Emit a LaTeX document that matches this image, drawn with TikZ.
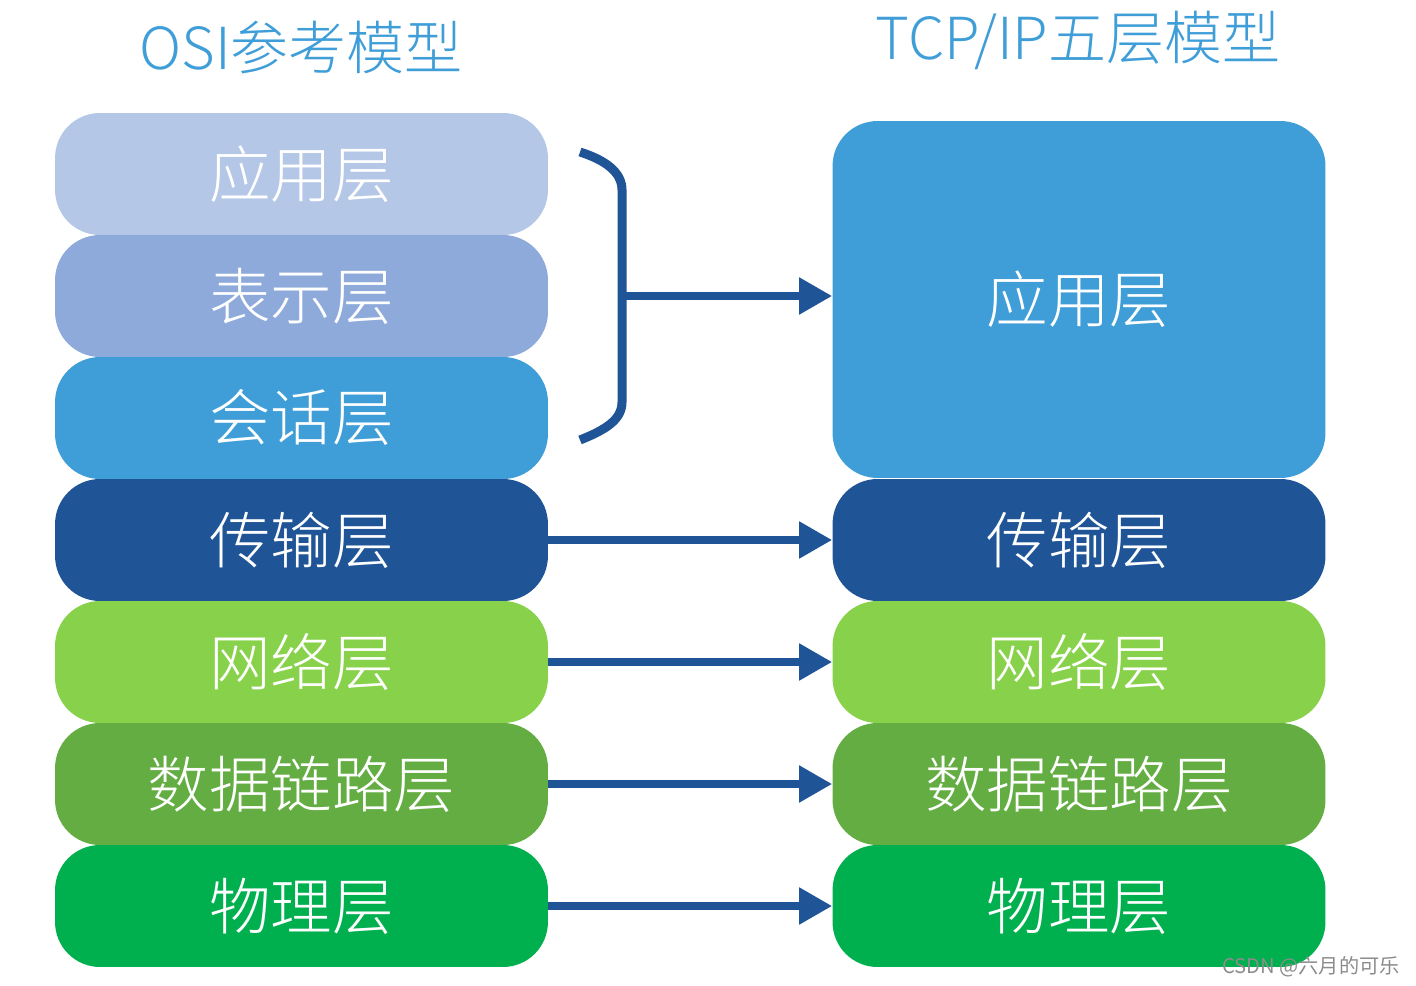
\documentclass[tikz,border=0pt]{standalone}
\usepackage{fontspec}
\usetikzlibrary{arrows.meta}
\setmainfont{Noto Sans CJK SC}
\newfontfamily\cjk{Noto Sans CJK SC Light}

\definecolor{appblue}{HTML}{B4C7E7}
\definecolor{preblue}{HTML}{8EAADB}
\definecolor{sesblue}{HTML}{3F9ED8}
\definecolor{darkblue}{HTML}{1F5597}
\definecolor{netgreen}{HTML}{88D14B}
\definecolor{linkgreen}{HTML}{63AD42}
\definecolor{phygreen}{HTML}{00B04F}
\definecolor{titleblue}{HTML}{3F9ED8}

\tikzset{
  layer/.style={rounded corners=0.9cm, minimum width=9.86cm, minimum height=2.44cm,
    text=white, font=\cjk\fontsize{35}{40}\selectfont, inner sep=0pt},
  title/.style={text=titleblue, font=\cjk\fontsize{33}{40}\selectfont},
  link/.style={draw=darkblue, line width=0.16cm, -{Triangle[length=0.66cm, width=0.7cm]}},
  brace/.style={draw=darkblue, line width=0.18cm}
}

\begin{document}
\begin{tikzpicture}[x=0.02cm, y=-0.02cm]
  \useasboundingbox (0,0) rectangle (1416,986);
  \node[title] (osititle) at (301,48) {OSI参考模型};
  \node[title] (tcptitle) at (1078,40) {TCP/IP五层模型};

  \node[layer, fill=appblue] (osiapp) at (301.5,174) {应用层};
  \node[layer, fill=preblue] (osipre) at (301.5,296) {表示层};
  \node[layer, fill=sesblue] (osises) at (301.5,418) {会话层};
  \node[layer, fill=darkblue] (ositrans) at (301.5,540) {传输层};
  \node[layer, fill=netgreen] (osinet) at (301.5,662) {网络层};
  \node[layer, fill=linkgreen] (osilink) at (301.5,784) {数据链路层};
  \node[layer, fill=phygreen] (osiphy) at (301.5,906) {物理层};

  \node[layer, fill=sesblue, minimum height=7.14cm] (tcpapp) at (1079,299.5) {应用层};
  \node[layer, fill=darkblue] (tcptrans) at (1079,540) {传输层};
  \node[layer, fill=netgreen] (tcpnet) at (1079,662) {网络层};
  \node[layer, fill=linkgreen] (tcplink) at (1079,784) {数据链路层};
  \node[layer, fill=phygreen] (tcpphy) at (1079,906) {物理层};

  \draw[brace] (580,152) .. controls (605,160) and (622,172) .. (622,190) -- (622,402)
    .. controls (622,420) and (605,430) .. (580,440);
  \coordinate (bracemid) at (622,296);
  \draw[link] (bracemid) -- (bracemid -| tcpapp.west);
  \draw[link] (ositrans.east) -- (tcptrans.west);
  \draw[link] (osinet.east) -- (tcpnet.west);
  \draw[link] (osilink.east) -- (tcplink.west);
  \draw[link] (osiphy.east) -- (tcpphy.west);

  \node[text=black!45, font=\fontsize{11.5}{13}\selectfont, anchor=east, inner sep=0pt] (mark) at (1400,967) {CSDN @六月的可乐};
\end{tikzpicture}
\end{document}
